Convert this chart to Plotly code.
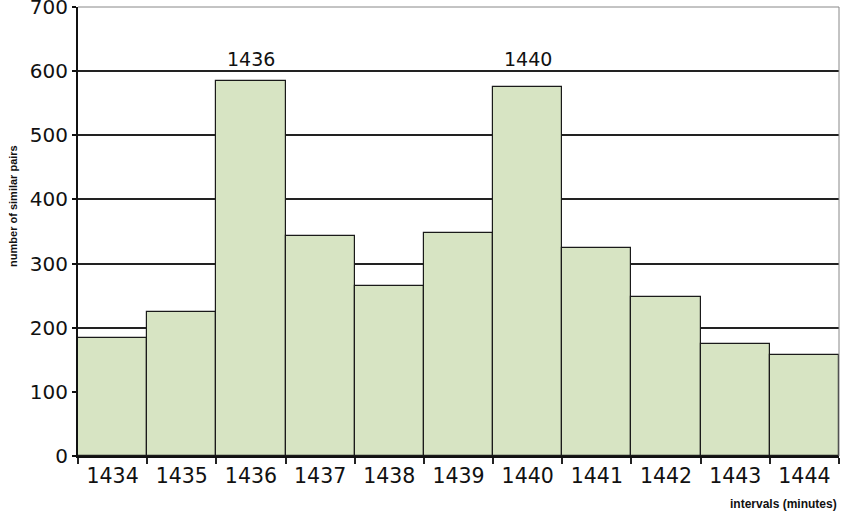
import plotly.graph_objects as go

categories = ["1434", "1435", "1436", "1437", "1438", "1439", "1440", "1441", "1442", "1443", "1444"]
counts = [184, 225, 585, 343, 265, 348, 575, 324, 248, 175, 157]
peak_labels = ["1436", "1440"]
peak_label_level = 619
y_ticks = [0, 100, 200, 300, 400, 500, 600, 700]

fig = go.Figure()
fig.add_trace(go.Bar(
    x=categories, y=counts,
    marker=dict(color="#d7e4c3", line=dict(color="#1a1a1a", width=1.2)),
    hoverinfo="x+y",
))

for lab in peak_labels:
    idx = categories.index(lab)
    fig.add_annotation(x=idx, y=peak_label_level, text=lab, showarrow=False,
                       yanchor="middle",
                       font=dict(family="DejaVu Sans", size=19, color="#111"))

fig.add_annotation(xref="paper", yref="paper", x=1.0, y=0, xanchor="right", yanchor="middle",
                   yshift=-48, text="<b>intervals (minutes)</b>", showarrow=False,
                   font=dict(family="Liberation Sans", size=12, color="#111"))
fig.add_annotation(xref="paper", yref="paper", x=0, y=0.557, xanchor="center", yanchor="middle",
                   xshift=-65, textangle=-90, text="<b>number of similar pairs</b>", showarrow=False,
                   font=dict(family="Liberation Sans", size=11, color="#111"))

# thin gray top/right border
fig.add_shape(type="line", xref="paper", yref="paper", x0=0, x1=1, y0=1, y1=1,
              line=dict(color="#888", width=1), layer="above")
fig.add_shape(type="line", xref="paper", yref="paper", x0=1, x1=1, y0=0, y1=1,
              line=dict(color="#888", width=1), layer="above")

fig.update_layout(
    width=860, height=516,
    margin=dict(l=78, r=21, t=7, b=60, autoexpand=False),
    paper_bgcolor="white", plot_bgcolor="white",
    bargap=0, showlegend=False,
    font=dict(family="DejaVu Sans", color="#111"),
    xaxis=dict(type="category", tickson="boundaries", ticks="outside", ticklen=6,
               tickcolor="#222", tickwidth=1.5, automargin=False,
               showline=True, linecolor="#111", linewidth=2, showgrid=False,
               tickfont=dict(size=20.5, family="DejaVu Sans"), range=[-0.5, 10.5]),
    yaxis=dict(range=[0, 700], tickvals=y_ticks, ticks="outside", ticklen=4,
               tickcolor="#111", tickwidth=2, automargin=False,
               ticklabeloverflow="allow",
               showline=True, linecolor="#111", linewidth=2,
               showgrid=True, gridcolor="#222", gridwidth=2,
               tickfont=dict(size=20, family="DejaVu Sans"), zeroline=False),
)

fig.write_html("out.html", config={"displayModeBar": False},
               post_script="document.body.style.margin='0px';")
